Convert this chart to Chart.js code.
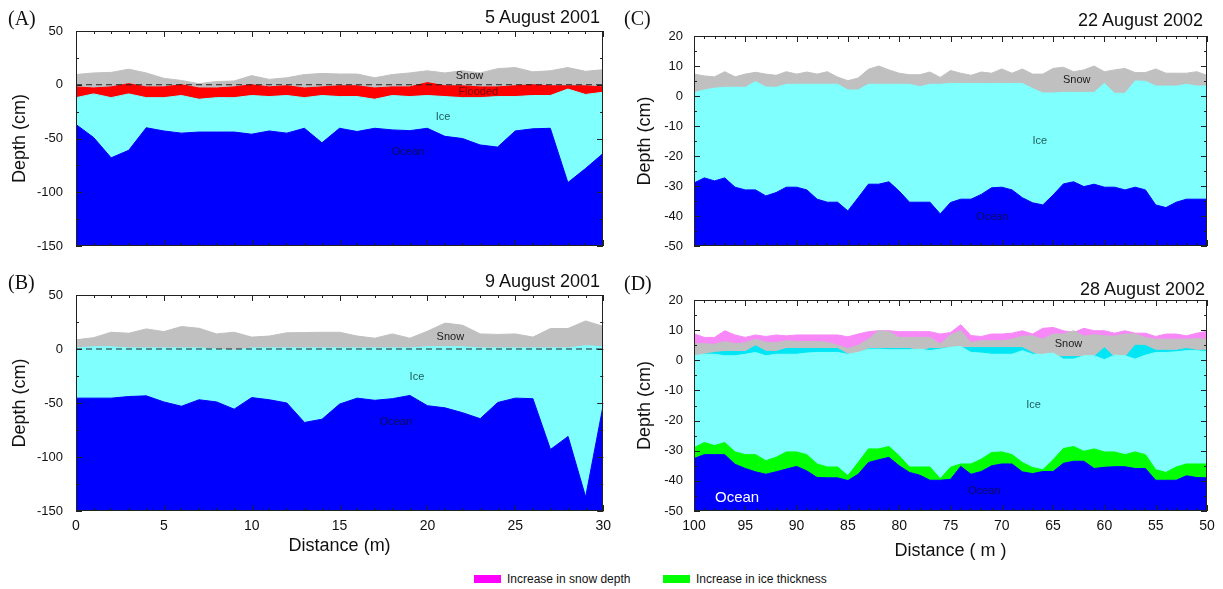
<!DOCTYPE html>
<html>
<head>
<meta charset="utf-8">
<title>Snow, ice and ocean depth profiles</title>
<script src="https://cdn.jsdelivr.net/npm/chart.js@4.4.1/dist/chart.umd.min.js"></script>
<style>
  html, body { margin: 0; padding: 0; background: #fff; }
  body { position: relative; width: 1223px; height: 589px; overflow: hidden;
         font-family: "Liberation Sans", Arial, sans-serif; color: #111; }
  canvas { position: absolute; }
  .tag { position: absolute; font-family: "Liberation Serif", "Times New Roman", serif;
         font-size: 20px; line-height: 20px; white-space: nowrap; }
  .date { position: absolute; font-size: 18px; line-height: 18px; text-align: right; white-space: nowrap; }
  .key { position: absolute; top: 573px; font-size: 12px; line-height: 12px; white-space: nowrap; }
  .swatch { position: absolute; top: 575px; width: 27px; height: 8px; }
</style>
</head>
<body>
<canvas id="panelB" width="618" height="300" style="left:0;top:262px"></canvas>
<canvas id="panelD" width="611" height="300" style="left:612px;top:262px"></canvas>
<canvas id="panelA" width="612" height="270" style="left:0;top:0"></canvas>
<canvas id="panelC" width="611" height="270" style="left:612px;top:0"></canvas>

<div class="tag" style="left:8px;top:8px">(A)</div>
<div class="date" style="right:623px;top:8px">5 August 2001</div>
<div class="tag" style="left:8px;top:272px">(B)</div>
<div class="date" style="right:623px;top:272px">9 August 2001</div>
<div class="tag" style="left:624px;top:8px">(C)</div>
<div class="date" style="right:20px;top:11px">22 August 2002</div>
<div class="tag" style="left:624px;top:273px">(D)</div>
<div class="date" style="right:18px;top:280px">28 August 2002</div>

<div class="swatch" style="left:474px;background:#ff00ff"></div>
<div class="key" style="left:507px">Increase in snow depth</div>
<div class="swatch" style="left:663px;background:#00ff00"></div>
<div class="key" style="left:696px">Increase in ice thickness</div>

<script>
// ---- Transect positions (m) ----
const distance2001 = [0,1,2,3,4,5,6,7,8,9,10,11,12,13,14,15,16,17,18,19,20,21,22,23,24,25,26,27,28,29,30];
const distance2002 = [100,99,98,97,96,95,94,93,92,91,90,89,88,87,86,85,84,83,82,81,80,79,78,77,76,75,
                      74,73,72,71,70,69,68,67,66,65,64,63,62,61,60,59,58,57,56,55,54,53,52,51,50];

// ---- Axis ticks ----
const depthTicks2001 = [-150, -100, -50, 0, 50];
const depthTicks2002 = [-50, -40, -30, -20, -10, 0, 10, 20];
const distanceTicks2001 = [0, 5, 10, 15, 20, 25, 30];
const distanceTicks2002 = [100, 95, 90, 85, 80, 75, 70, 65, 60, 55, 50];

// ---- 5 August 2001 (cm, relative to sea level) ----
const snowSurfaceAug5 = [9.5,11,11.5,14.5,11,6,4,1,3,3.5,8.5,5,6.5,9.5,10.5,10,10,6.5,9.5,11,13,11,13,11,15,16,12,13,16,12.5,14];
const floodTopAug5    = [-2,-3,-2,1,-2,-2,0,-3,-3,-2,0,-2,-1,-3,-2,-1,-1,-3,-2,-2,2,-1,-1,-2,-2,-1,0,-1,-1,-1,-2];
const iceTopAug5      = [-12,-8.5,-12,-8.5,-12,-12,-10,-13.5,-12,-12,-10,-11,-10,-12,-10,-11,-11,-13.5,-10,-11,-10,-11,-12,-12,-11,-11,-10,-10,-4,-9,-7];
const iceBottomAug5   = [-37,-49,-68,-61,-40,-43,-45,-44,-44,-44,-46,-43,-45,-40.5,-54,-40.5,-43.5,-40.5,-42,-42.7,-40.5,-48,-50,-56,-58,-43,-41,-40.5,-91,-78,-64];

// ---- 9 August 2001 ----
const snowSurfaceAug9 = [8.5,10.5,15.5,14.6,18.6,16.1,20.8,19.2,14,15.5,11,12,15,15.2,15.5,15.5,12,10,14,10,16.5,24,22,14,13.5,14,11,19,19,26,21];
const iceTopAug9      = [1,2,2,1,1,1,1,1,0,-1,1,1,1,1,1,1,1,1,1,1,2,2,2,1,1,1,1,1,1,3,2];
const iceBottomAug9   = [-45.5,-45.5,-45.5,-44,-43.4,-49,-53,-47,-49,-55.7,-45,-47,-50,-68,-65,-51,-45.5,-47.5,-46,-43,-52.5,-54.5,-59,-64.5,-49.5,-45.5,-46,-93,-81,-137,-52];

// ---- 22 August 2002 ----
const snowSurfaceAug22 = [7.3,6.7,6.4,8.1,6.4,7.3,7.9,7.3,6.9,8.1,7.3,8,7.3,8.1,6.3,5.1,6,8.9,10,8.7,7.6,7.1,7.1,8,6.2,8.5,
                          7.6,6.9,8,7.6,9,7.6,9,7.3,7.3,9.2,9.6,8.1,8.7,10,8.1,8.7,9.2,7.8,7.8,9,7.6,7.6,7.6,8.1,6.9];
const iceTopAug22      = [1.1,2,2.6,2.9,2.9,2.9,4.8,3,2.9,3.9,3.9,3.9,3.9,3.9,3.9,2,2,3.9,3.9,3.9,3.9,3.9,3.1,3.9,3.9,4.2,
                          4.2,4.2,4.2,4.2,4.2,4.2,4.2,2.5,1,1,1.2,1.2,1.2,1.2,4.2,0.9,0.9,5,4.9,3.3,3.3,3.3,3.9,3.3,3.3];
const iceBottomAug22   = [-29,-27.3,-28.3,-27.3,-30.4,-31.3,-31.3,-33.3,-32.2,-30.4,-30.4,-31.3,-34.4,-35.4,-35.4,-38.3,-33.9,-29.4,-29.4,-28.6,-31.7,-35.4,-35.4,-35.4,-39.3,-35.5,
                          -34.4,-34.4,-32.8,-30.6,-30.4,-31.3,-33.9,-35.6,-36.3,-33,-29.3,-28.6,-30.2,-29.4,-30.4,-30.4,-31.3,-30.4,-31.3,-36.3,-37.2,-35.4,-34.4,-34.4,-34.4];

// ---- 28 August 2002 ----
const snowSurfaceAug28 = [8.8,7.6,7.6,9.8,8.4,7.6,8.4,7.9,8.4,8.1,8.4,8.4,8.4,8.4,8.4,7.8,8.7,9.5,9.8,9.8,9.5,9.5,9.5,9.5,8.7,9.2,
                          11.8,8.2,7.9,8.7,8.7,9,9.8,8.7,10.6,10.9,9.8,9.2,10.6,9.8,9.8,9,9.8,9,9,7.9,8.7,8.7,8.1,9,9.6];
const priorSnowAug28   = [5.5,5.5,5.3,6.2,5.5,5.8,7,6,5.8,6.5,6.2,6.2,6.2,6,5,3.9,5,7,9.8,9.5,7.6,7.6,7.6,7.6,5.4,8.4,
                          9.8,5.9,6.5,6.5,6.5,7,8,8.1,7,8.7,8.7,9.8,8,8.5,8.1,8,8.7,8.7,7.5,7,7,7,7,7.2,7];
const iceTopAug28      = [1.5,2,2,1.5,1.5,2,2.6,1.5,2,2,2,2.4,2.6,2.6,2.6,2,2.6,3.7,3.7,3.5,3.5,3.5,3.7,3.2,3.7,4.3,
                          4.6,2.6,2.4,2,2,2,3.2,2,2,2.4,0.4,0.4,1.5,1.5,0.2,1.7,1.5,0.4,1.7,2.6,2.6,2.8,3.2,3.2,2.8];
const iceBottomAug28   = [-32.6,-31.3,-31.3,-31.3,-34.5,-35.9,-37,-37.8,-37,-36.1,-35.2,-36.7,-38.9,-39,-39,-39.9,-37.8,-33.9,-33,-32.2,-35,-37.2,-38.1,-39.8,-39.8,-39.5,
                          -35.2,-37.8,-36.9,-35,-34.4,-34.4,-37,-37.6,-36.9,-36.9,-34.2,-33.5,-33.5,-35.9,-35.5,-35.3,-35.3,-35.9,-35.9,-39.8,-39.8,-39.8,-38.3,-38.9,-39];

// ---- Fill colours ----
const SNOW = '#c0c0c0', FLOODED = '#ff0000', ICE = '#80ffff', OCEAN = '#0000ff';
const NEW_SNOW = '#f888f8', ICE_SURFACE = '#00e6f5', NEW_ICE = '#00ff00';

Chart.defaults.font.family = '"Liberation Sans", Arial, sans-serif';
Chart.defaults.color = '#111';

const points = (xs, ys) => xs.map((x, i) => ({ x, y: ys[i] }));

// Each surface is filled down to the bottom of the axis; layers further
// down are drawn later (lower "order"), so they cover the ones above.
function surface(label, xs, ys, color, order) {
  return { label, data: points(xs, ys), backgroundColor: color, borderColor: color,
           borderWidth: 1, pointRadius: 0, tension: 0, fill: 'start', order };
}
function seaLevel(xs) {
  return { label: 'Sea level', data: points(xs, xs.map(() => 0)), borderColor: '#222',
           borderWidth: 1.2, borderDash: [6, 4], pointRadius: 0, fill: false, order: 0 };
}

// Frame, inward tick marks and layer names drawn on top of the fills.
function overlay(spec) {
  return {
    id: 'overlay',
    afterDatasetsDraw(chart) {
      const { ctx, chartArea: a } = chart;
      const xs = chart.scales.x, ys = chart.scales.y;
      ctx.save();
      ctx.strokeStyle = '#222';
      ctx.lineWidth = 1;
      ctx.beginPath();
      const mark = (scale, values, len) => values.forEach(v => {
        const p = Math.round(scale.getPixelForValue(v)) + 0.5;
        if (scale.isHorizontal()) {
          ctx.moveTo(p, a.top); ctx.lineTo(p, a.top + len);
          ctx.moveTo(p, a.bottom); ctx.lineTo(p, a.bottom - len);
        } else {
          ctx.moveTo(a.left, p); ctx.lineTo(a.left + len, p);
          ctx.moveTo(a.right, p); ctx.lineTo(a.right - len, p);
        }
      });
      const steps = (scale, step) => {
        const out = [];
        for (let v = scale.min; v <= scale.max + 1e-9; v += step) out.push(v);
        return out;
      };
      mark(xs, steps(xs, spec.xMinor), 3);
      mark(xs, spec.xMajor, 6);
      mark(ys, steps(ys, spec.yMinor), 3);
      mark(ys, spec.yMajor, 6);
      ctx.stroke();
      ctx.strokeRect(Math.round(a.left) + 0.5, Math.round(a.top) + 0.5,
                     Math.round(a.width) - 1, Math.round(a.height) - 1);
      ctx.textAlign = 'center';
      ctx.textBaseline = 'middle';
      spec.names.forEach(n => {
        ctx.font = (n.size || 11) + 'px "Liberation Sans", Arial, sans-serif';
        ctx.fillStyle = n.color;
        ctx.fillText(n.text, xs.getPixelForValue(n.x), ys.getPixelForValue(n.y));
      });
      ctx.restore();
    }
  };
}

function panel(id, spec) {
  const xMin = Math.min(...spec.xMajor), xMax = Math.max(...spec.xMajor);
  const yMin = Math.min(...spec.yMajor), yMax = Math.max(...spec.yMajor);
  return new Chart(document.getElementById(id), {
    type: 'line',
    data: { datasets: spec.datasets },
    options: {
      responsive: false,
      animation: false,
      devicePixelRatio: 1,
      events: [],
      layout: { padding: { top: spec.padTop, right: spec.padRight, left: 0, bottom: 0 } },
      plugins: { legend: { display: false }, tooltip: { enabled: false } },
      scales: {
        x: {
          type: 'linear', min: xMin, max: xMax, reverse: !!spec.reverse,
          afterBuildTicks: s => { s.ticks = spec.xMajor.map(value => ({ value })); },
          afterFit: s => { s.height = spec.xHeight; },
          grid: { display: false, drawTicks: false },
          border: { display: false },
          ticks: { display: !!spec.xTitle, padding: 7, color: '#111', font: { size: 14 }, maxRotation: 0, autoSkip: false },
          title: spec.xTitle ? { display: true, text: spec.xTitle, color: '#111',
                                 font: { size: 18 }, padding: { top: 0, bottom: spec.xTitlePad } }
                             : { display: false }
        },
        y: {
          type: 'linear', min: yMin, max: yMax,
          afterBuildTicks: s => { s.ticks = spec.yMajor.map(value => ({ value })); },
          afterFit: s => { s.width = spec.yWidth; },
          grid: { display: false, drawTicks: false },
          border: { display: false },
          ticks: { padding: spec.yTickPad, color: '#111', font: { size: 13 } },
          title: { display: true, text: 'Depth (cm)', color: '#111', font: { size: 18 },
                   padding: { top: spec.yTitlePad, bottom: 0 } }
        }
      }
    },
    plugins: [overlay(spec)]
  });
}

const SNOW_TXT = '#1a1a1a', ICE_TXT = '#1d5c5c', OCEAN_TXT = '#0c0c58', FLOOD_TXT = '#7a0000';

panel('panelA', {
  padTop: 31, padRight: 9, yWidth: 76, xHeight: 24, yTickPad: 13, yTitlePad: 9,
  xMajor: distanceTicks2001, xMinor: 1, yMajor: depthTicks2001, yMinor: 25,
  datasets: [
    surface('Snow', distance2001, snowSurfaceAug5, SNOW, 4),
    surface('Flooded', distance2001, floodTopAug5, FLOODED, 3),
    surface('Ice', distance2001, iceTopAug5, ICE, 2),
    surface('Ocean', distance2001, iceBottomAug5, OCEAN, 1),
    seaLevel(distance2001)
  ],
  names: [
    { text: 'Snow', x: 22.4, y: 8, color: SNOW_TXT },
    { text: 'Flooded', x: 22.9, y: -6.7, color: FLOOD_TXT },
    { text: 'Ice', x: 20.9, y: -30, color: ICE_TXT },
    { text: 'Ocean', x: 18.9, y: -62.5, color: OCEAN_TXT }
  ]
});

panel('panelB', {
  padTop: 33, padRight: 9, yWidth: 76, xHeight: 51, yTickPad: 13, yTitlePad: 9,
  xTitle: 'Distance (m)', xTitlePad: 5,
  xMajor: distanceTicks2001, xMinor: 1, yMajor: depthTicks2001, yMinor: 25,
  datasets: [
    surface('Snow', distance2001, snowSurfaceAug9, SNOW, 3),
    surface('Ice', distance2001, iceTopAug9, ICE, 2),
    surface('Ocean', distance2001, iceBottomAug9, OCEAN, 1),
    seaLevel(distance2001)
  ],
  names: [
    { text: 'Snow', x: 21.3, y: 11, color: SNOW_TXT },
    { text: 'Ice', x: 19.4, y: -26, color: ICE_TXT },
    { text: 'Ocean', x: 18.2, y: -68, color: OCEAN_TXT }
  ]
});

panel('panelC', {
  padTop: 36, padRight: 16, yWidth: 82, xHeight: 24, yTickPad: 11, yTitlePad: 22, reverse: true,
  xMajor: distanceTicks2002, xMinor: 1, yMajor: depthTicks2002, yMinor: 5,
  datasets: [
    surface('Snow', distance2002, snowSurfaceAug22, SNOW, 3),
    surface('Ice', distance2002, iceTopAug22, ICE, 2),
    surface('Ocean', distance2002, iceBottomAug22, OCEAN, 1)
  ],
  names: [
    { text: 'Snow', x: 62.7, y: 5.3, color: SNOW_TXT },
    { text: 'Ice', x: 66.3, y: -15, color: ICE_TXT },
    { text: 'Ocean', x: 70.9, y: -40.3, color: OCEAN_TXT }
  ]
});

panel('panelD', {
  padTop: 38, padRight: 16, yWidth: 82, xHeight: 51, yTickPad: 11, yTitlePad: 22, reverse: true,
  xTitle: 'Distance ( m )', xTitlePad: 0,
  xMajor: distanceTicks2002, xMinor: 1, yMajor: depthTicks2002, yMinor: 5,
  datasets: [
    surface('Increase in snow depth', distance2002, snowSurfaceAug28, NEW_SNOW, 6),
    surface('Snow', distance2002, priorSnowAug28, SNOW, 5),
    surface('Ice surface change', distance2002, iceTopAug22, ICE_SURFACE, 4),
    surface('Ice', distance2002, iceTopAug28, ICE, 3),
    surface('Increase in ice thickness', distance2002, iceBottomAug22, NEW_ICE, 2),
    surface('Ocean', distance2002, iceBottomAug28, OCEAN, 1)
  ],
  names: [
    { text: 'Snow', x: 63.5, y: 5.4, color: SNOW_TXT },
    { text: 'Ice', x: 66.9, y: -14.8, color: ICE_TXT },
    { text: 'Ocean', x: 71.7, y: -43.4, color: OCEAN_TXT },
    { text: 'Ocean', x: 95.8, y: -45.7, color: '#ffffff', size: 15 }
  ]
});
</script>
</body>
</html>
